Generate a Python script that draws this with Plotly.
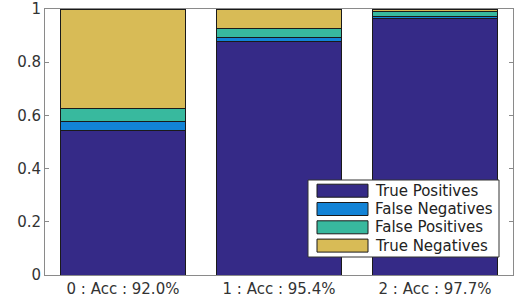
import plotly.graph_objects as go

categories = ["0 : Acc : 92.0%", "1 : Acc : 95.4%", "2 : Acc : 97.7%"]
true_positives = [0.545, 0.879, 0.966]
false_negatives = [0.032, 0.015, 0.006]
false_positives = [0.048, 0.031, 0.017]
true_negatives = [0.375, 0.075, 0.011]

series_names = ["True Positives", "False Negatives", "False Positives", "True Negatives"]
series_values = [true_positives, false_negatives, false_positives, true_negatives]
series_colors = ["#352a87", "#1283d6", "#38b99e", "#d8bb56"]

W, H = 520, 305
ML, MR, MT, MB = 45, 7, 9, 30
PW, PH = W - ML - MR, H - MT - MB

def px_x(px):
    return (px - ML) / PW

def px_y(py):
    return (H - MB - py) / PH

fig = go.Figure()
for name, vals, color in zip(series_names, series_values, series_colors):
    fig.add_trace(go.Bar(
        x=categories, y=vals, name=name,
        marker=dict(color=color, line=dict(color="#1a1a1a", width=1)),
    ))

font = dict(family="DejaVu Sans", size=15, color="#333333")

# custom MATLAB-style legend (box, wide swatches, labels)
shapes = [dict(type="rect", xref="paper", yref="paper",
               x0=px_x(308), x1=px_x(499), y0=px_y(257), y1=px_y(180),
               fillcolor="white", line=dict(color="#333333", width=1), layer="above")]
annotations = []
for i, (name, color) in enumerate(zip(series_names, series_colors)):
    cy = 190.7 + i * 18.3
    shapes.append(dict(type="rect", xref="paper", yref="paper",
                       x0=px_x(317), x1=px_x(368), y0=px_y(cy + 6.5), y1=px_y(cy - 6.5),
                       fillcolor=color, line=dict(color="#1a1a1a", width=1), layer="above"))
    annotations.append(dict(xref="paper", yref="paper", x=px_x(373), y=px_y(cy),
                            xanchor="left", yanchor="middle", showarrow=False, text=name,
                            font=dict(family="DejaVu Sans", size=15, color="#222222")))

fig.update_layout(
    width=W, height=H,
    margin=dict(l=ML, r=MR, t=MT, b=MB, autoexpand=False),
    barmode="stack", bargap=0.2,
    plot_bgcolor="white", paper_bgcolor="white",
    font=font,
    showlegend=False,
    shapes=shapes, annotations=annotations,
)
fig.update_xaxes(
    range=[-0.5, 2.5], showline=True, linecolor="#8a8a8a", linewidth=1,
    mirror=True, ticks="", showgrid=False, tickfont=font, automargin=False,
)
fig.update_yaxes(
    range=[0, 1], tickvals=[0, 0.2, 0.4, 0.6, 0.8, 1],
    ticktext=["0", "0.2", "0.4", "0.6", "0.8", "1"],
    showline=True, linecolor="#8a8a8a", linewidth=1, mirror="ticks",
    ticks="inside", ticklen=4, tickcolor="#8a8a8a", showgrid=False, zeroline=False,
    tickfont=font, automargin=False,
)
fig.write_html(
    "out.html",
    config={"displayModeBar": False},
    post_script="document.body.style.margin='0';document.body.style.overflow='hidden';",
)
